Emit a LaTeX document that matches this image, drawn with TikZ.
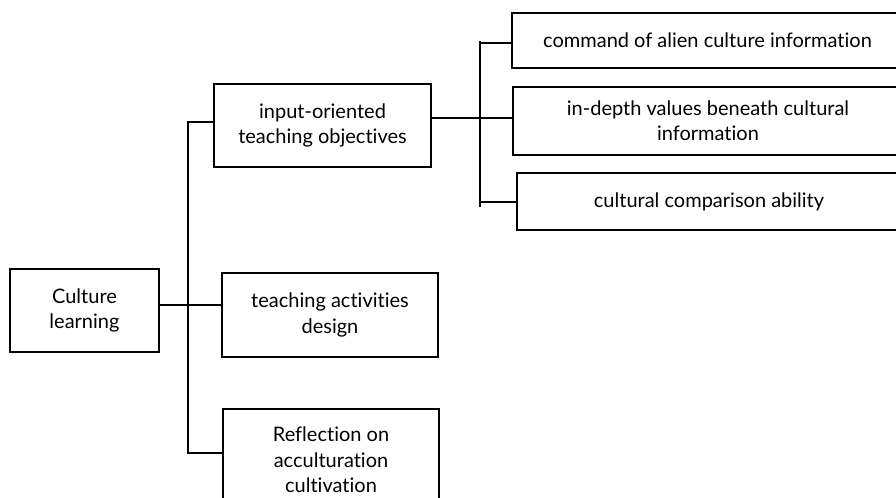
\documentclass[tikz,border=0pt]{standalone}
\usepackage{fontspec}
\setmainfont{Lato}[Ligatures=NoCommon]
\usetikzlibrary{positioning}

\begin{document}
\begin{tikzpicture}[
  x=0.75pt,y=-0.75pt,
  box/.style={draw,line width=1.2pt,align=center,inner sep=0pt,
    font=\fontsize{15}{19}\selectfont},
  link/.style={line width=1.2pt}
]
  \clip (0,0) rectangle (896,497);

  \node[box,minimum width=111.75pt,minimum height=62.25pt] (learn) at (84.5,310.5) {Culture\\learning};
  \node[box,minimum width=162.75pt,minimum height=62.25pt] (input) at (322.5,125.5) {input-oriented\\teaching objectives};
  \node[box,minimum width=162pt,minimum height=63pt] (design) at (330,315) {teaching activities\\design};
  \node[box,minimum width=162pt,minimum height=76.5pt] (reflect) at (331,460) {Reflection on\\acculturation\\cultivation};
  \node[box,minimum width=293.25pt,minimum height=41.25pt] (command) at (707.5,40.5) {command of alien culture information};
  \node[box,minimum width=292.5pt,minimum height=51pt] (depth) at (708,121) {in-depth values beneath cultural\\information};
  \node[box,minimum width=288pt,minimum height=42.75pt] (compare) at (709,201.5) {cultural comparison ability};

  % left tree
  \coordinate (top1) at (188,122);
  \coordinate (bot1) at (188,453);
  \coordinate (mid1) at (159,305);
  \draw[link] (top1 -| input.west) -- (top1) -- (bot1) -- (bot1 -| reflect.west);
  \draw[link] (mid1) -- (mid1 -| design.west);

  % right tree
  \coordinate (top2) at (480,43);
  \coordinate (bot2) at (480,202);
  \coordinate (mid2) at (431,118);
  \draw[link] ([yshift=1.5pt]top2) -- ([yshift=-3.75pt]bot2);
  \draw[link] (top2) -- (top2 -| command.west);
  \draw[link] (bot2) -- (bot2 -| compare.west);
  \draw[link] (mid2) -- (mid2 -| depth.west);
\end{tikzpicture}
\end{document}
